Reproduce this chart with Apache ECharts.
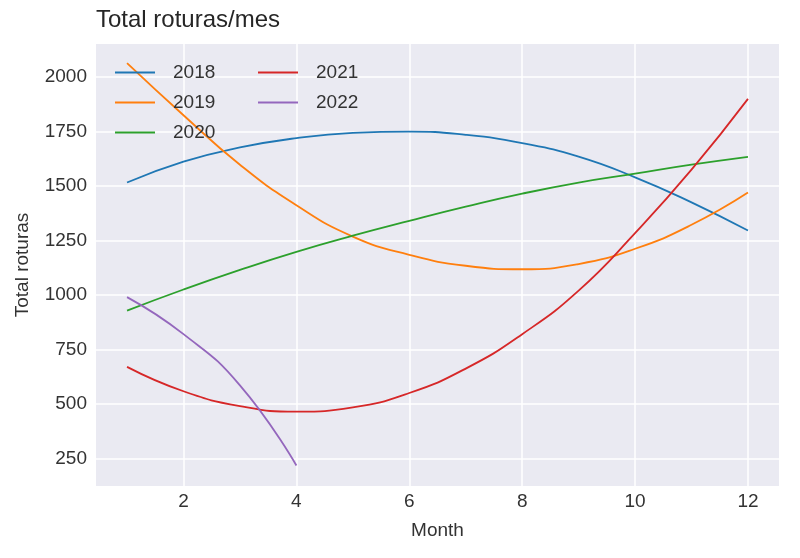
<!DOCTYPE html>
<html>
<head>
<meta charset="utf-8">
<script src="https://cdn.jsdelivr.net/npm/echarts@6/dist/echarts.min.js"></script>
<style>
  html, body { margin: 0; padding: 0; background: #fff; }
  #main { width: 800px; height: 558px; }
</style>
</head>
<body>
<div id="main"></div>
<script>
// valores (curvas ajustadas por mes)
var months = [1, 2, 3, 4, 5, 6, 7, 8, 9, 10, 11, 12];
var y2018 = [1516, 1612, 1677, 1720, 1744, 1750, 1735, 1697, 1635, 1540, 1425, 1296];
var y2019 = [2064, 1825, 1598, 1412, 1268, 1184, 1134, 1118, 1142, 1212, 1322, 1470];
var y2020 = [928, 1025, 1115, 1198, 1272, 1340, 1405, 1465, 1516, 1557, 1598, 1634];
var y2021 = [670, 558, 490, 464, 484, 550, 662, 820, 1020, 1284, 1575, 1900];
var y2022 = [990, 820, 585, 217];
var xTicks = [2, 4, 6, 8, 10, 12];
var yTicks = [250, 500, 750, 1000, 1250, 1500, 1750, 2000];

var colors = ['#1f77b4', '#ff7f0e', '#2ca02c', '#d62728', '#9467bd'];
var txt = '#333333';
var font = 'Liberation Sans, Arial, sans-serif';

function pairs(vals) {
  return vals.map(function (v, i) { return [months[i], v]; });
}

function mkSeries(name, vals, i) {
  return {
    name: name,
    type: 'line',
    data: pairs(vals),
    smooth: 0.5,
    symbol: 'none',
    lineStyle: { width: 1.8, color: colors[i] },
    itemStyle: { color: colors[i] }
  };
}

function mkLegend(names, left) {
  return {
    data: names,
    orient: 'vertical',
    left: left,
    top: 63,
    padding: 0,
    icon: 'rect',
    itemWidth: 40,
    itemHeight: 2,
    itemGap: 11,
    textStyle: { fontFamily: font, fontSize: 19, color: txt, padding: [0, 0, 0, 13] }
  };
}

var chart = echarts.init(document.getElementById('main'));

var option = {
  animation: false,
  backgroundColor: '#ffffff',
  title: {
    text: 'Total roturas/mes',
    left: 96,
    top: 8,
    padding: 0,
    textStyle: { fontFamily: font, fontSize: 24, fontWeight: 'normal', color: '#262626' }
  },
  legend: [
    mkLegend(['2018', '2019', '2020'], 115),
    mkLegend(['2021', '2022'], 258)
  ],
  grid: {
    left: 96,
    right: 21,
    top: 44,
    bottom: 72,
    show: true,
    backgroundColor: '#eaeaf2',
    borderWidth: 0
  },
  xAxis: {
    type: 'value',
    min: 0.45,
    max: 12.55,
    name: 'Month',
    nameLocation: 'middle',
    nameGap: 35,
    nameTextStyle: { fontFamily: font, fontSize: 19, color: txt },
    axisLine: { show: false },
    axisTick: { show: false, customValues: xTicks },
    axisLabel: { customValues: xTicks, fontFamily: font, fontSize: 19, color: txt, margin: 6 },
    splitLine: { show: true, lineStyle: { color: '#ffffff', width: 1.5 } }
  },
  yAxis: {
    type: 'value',
    min: 123,
    max: 2152,
    name: 'Total roturas',
    nameLocation: 'middle',
    nameGap: 64,
    nameTextStyle: { fontFamily: font, fontSize: 19, color: txt },
    axisLine: { show: false },
    axisTick: { show: false, customValues: yTicks },
    axisLabel: {
      customValues: yTicks,
      formatter: function (v) { return String(v); },
      fontFamily: font, fontSize: 19, color: txt, margin: 9
    },
    splitLine: { show: true, lineStyle: { color: '#ffffff', width: 1.5 } }
  },
  series: [
    mkSeries('2018', y2018, 0),
    mkSeries('2019', y2019, 1),
    mkSeries('2020', y2020, 2),
    mkSeries('2021', y2021, 3),
    mkSeries('2022', y2022, 4)
  ]
};

chart.setOption(option);
</script>
</body>
</html>
